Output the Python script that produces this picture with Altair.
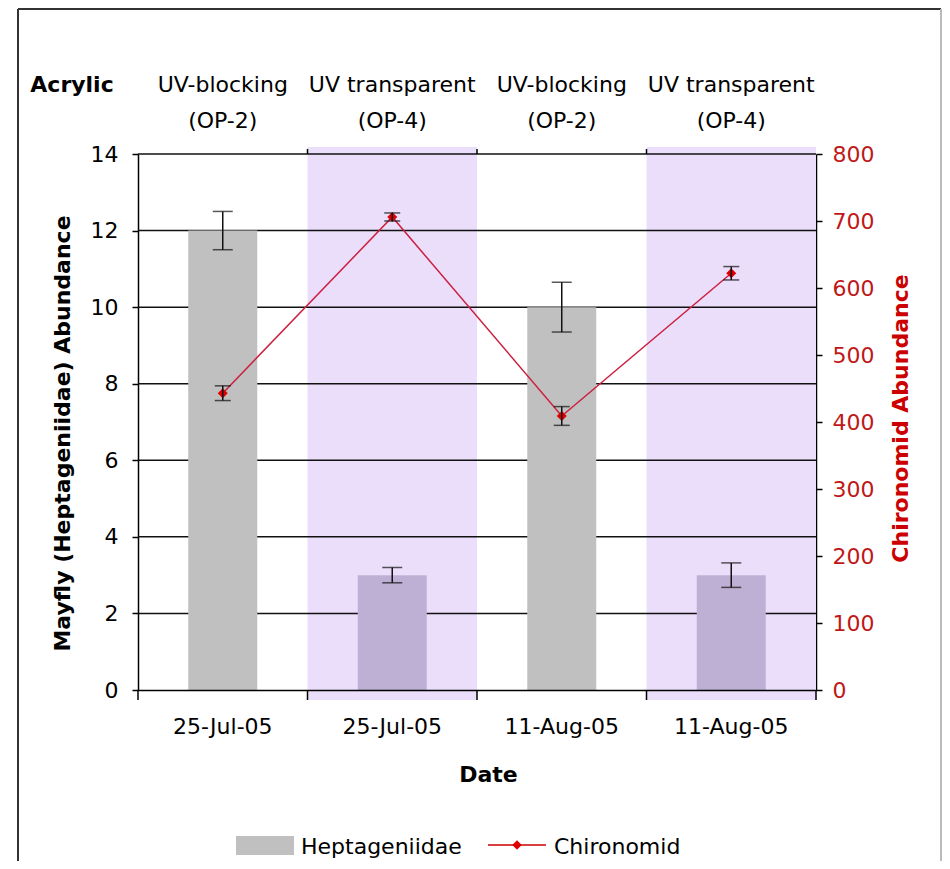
import json
import altair as alt
import pandas as pd

# ---- data ----
keys = ["0", "1", "2", "3"]
dates = ["25-Jul-05", "25-Jul-05", "11-Aug-05", "11-Aug-05"]
acrylic = ["UV-blocking\n(OP-2)", "UV transparent\n(OP-4)",
           "UV-blocking\n(OP-2)", "UV transparent\n(OP-4)"]
uv_type = ["blocking", "transparent", "blocking", "transparent"]
heptageniidae = [12, 3, 10, 3]
heptageniidae_err = [0.5, 0.2, 0.65, 0.32]
chironomid = [443, 706, 409, 622]
chironomid_err = [11, 6, 14, 10]
left_ticks = [0, 2, 4, 6, 8, 10, 12, 14]
grid_values = [2, 4, 6, 8, 10, 12, 14]
right_ticks = [0, 100, 200, 300, 400, 500, 600, 700, 800]
legend_labels = ["Heptageniidae", "Chironomid"]

df = pd.DataFrame({
    "key": keys, "date": dates, "acrylic": acrylic, "uv": uv_type,
    "hep": heptageniidae, "chi": chironomid,
})
df["hep_lo"] = df["hep"] - pd.Series(heptageniidae_err)
df["hep_hi"] = df["hep"] + pd.Series(heptageniidae_err)
df["chi_lo"] = df["chi"] - pd.Series(chironomid_err)
df["chi_hi"] = df["chi"] + pd.Series(chironomid_err)
grid_df = pd.DataFrame({"v": grid_values})
one = pd.DataFrame({"a": [legend_labels[0]], "b": [legend_labels[1]]})

FONT = "DejaVu Sans"
W, H = 678, 536

xscale = alt.Scale(domain=keys, paddingInner=0, paddingOuter=0)
x_axis = alt.Axis(
    orient="bottom", labelExpr=json.dumps(dates) + "[toNumber(datum.value)]",
    labelAngle=0, labelFontSize=22, labelFont=FONT, labelColor="#000",
    labelBaseline="alphabetic", labelPadding=43, ticks=False, tickSize=0,
    domainColor="#000", domainWidth=1.5, grid=False,
    titleFontSize=22, titleFont=FONT, titleFontWeight="bold", titleColor="#000",
    titleX=350, titleY=91, titleBaseline="alphabetic", titleAlign="center",
)
x_enc = alt.X("key:N", scale=xscale, axis=x_axis, title="Date")


def xb(pos):
    return alt.X("key:N", scale=xscale, axis=x_axis, title="Date", bandPosition=pos)


yL_scale = alt.Scale(domain=[0, 14], nice=False)
yL_axis = alt.Axis(
    orient="left", values=left_ticks, grid=False, tickSize=6, tickColor="#000",
    tickWidth=1.5, domainColor="#000", domainWidth=1.5, labelFontSize=22,
    labelFont=FONT, labelColor="#000", labelPadding=14,
    titleFontSize=22, titleFont=FONT, titleFontWeight="bold", titleColor="#000",
    titleAngle=270, titleX=-76, titleY=279, titleBaseline="middle", titleAlign="center",
)
YL_TITLE = "Mayfly (Heptageniidae) Abundance"

yR_scale = alt.Scale(domain=[0, 800], nice=False)
yR_axis = alt.Axis(
    orient="right", values=right_ticks, grid=False, tickSize=6, tickColor="#000",
    tickWidth=1.5, domainColor="#000", domainWidth=1.5, labelFontSize=22,
    labelFont=FONT, labelColor="#c01818", labelPadding=10,
    titleFontSize=22, titleFont=FONT, titleFontWeight="bold", titleColor="#cc0000",
    titleAngle=270, titleX=84, titleY=264, titleBaseline="middle", titleAlign="center",
)
YR_TITLE = "Chironomid Abundance"


def yl(field):
    return alt.Y(field, scale=yL_scale, axis=yL_axis, title=YL_TITLE)


def yr(field):
    return alt.Y(field, scale=yR_scale, axis=yR_axis, title=YR_TITLE)


base = alt.Chart(df)

# frame
frame_left = alt.Chart(one).mark_rule(color="#333", strokeWidth=2).encode(
    x=alt.value(-120), y=alt.value(-145), y2=alt.value(720))
frame_top = alt.Chart(one).mark_rule(color="#333", strokeWidth=2).encode(
    x=alt.value(-120), x2=alt.value(803), y=alt.value(-145))
frame_right = alt.Chart(one).mark_rule(color="#bbbbbb", strokeWidth=2).encode(
    x=alt.value(803), y=alt.value(-145), y2=alt.value(720))

bands = base.transform_filter("datum.uv == 'transparent'").mark_rect(
    color="#ebdefa").encode(x=x_enc, y=alt.value(-7), y2=alt.value(546))

grid = alt.Chart(grid_df).mark_rule(color="#111", strokeWidth=1.5).encode(y=yl("v:Q"))

bars = base.mark_bar(size=69).encode(
    x=x_enc, y=yl("hep:Q"),
    color=alt.condition("datum.uv == 'transparent'", alt.value("#beb0d4"), alt.value("#c0c0c0")),
)
bar_err = base.mark_rule(color="#111", strokeWidth=1.5).encode(
    x=x_enc, y=yl("hep_lo:Q"), y2="hep_hi:Q")
bar_cap_lo = base.mark_tick(orient="horizontal", size=20, thickness=1.5, color="#111").encode(
    x=x_enc, y=yl("hep_lo:Q"))
bar_cap_hi = base.mark_tick(orient="horizontal", size=20, thickness=1.5, color="#111").encode(
    x=x_enc, y=yl("hep_hi:Q"))

top_ticks = alt.Chart(df.iloc[1:]).mark_rule(color="#000", strokeWidth=1.5).encode(
    x=xb(0), y=alt.value(-5), y2=alt.value(0))
bottom_ticks = base.mark_rule(color="#000", strokeWidth=1.5).encode(
    x=xb(0), y=alt.value(536), y2=alt.value(546))
end_tick = alt.Chart(df.iloc[3:]).mark_rule(color="#000", strokeWidth=1.5).encode(
    x=xb(1), y=alt.value(536), y2=alt.value(546))

header = base.mark_text(font=FONT, fontSize=22, lineBreak="\n", lineHeight=36,
                        baseline="alphabetic", align="center", color="#000").encode(
    x=x_enc, y=alt.value(-62), text="acrylic:N")
acrylic_lbl = alt.Chart(one).mark_text(font=FONT, fontSize=22, fontWeight="bold",
                                       baseline="alphabetic", align="center", color="#000",
                                       text="Acrylic").encode(
    x=alt.value(-66), y=alt.value(-62))

# legend
leg_rect = alt.Chart(one).mark_rect(color="#c0c0c0").encode(
    x=alt.value(98), x2=alt.value(156), y=alt.value(682), y2=alt.value(701))
leg_t1 = alt.Chart(one).mark_text(font=FONT, fontSize=22, align="left",
                                  baseline="alphabetic", color="#000").encode(
    x=alt.value(163), y=alt.value(700), text="a:N")
leg_line = alt.Chart(one).mark_rule(color="#cc0000", strokeWidth=1.5).encode(
    x=alt.value(350), x2=alt.value(408), y=alt.value(691))
leg_pt = alt.Chart(one).mark_point(shape="diamond", filled=True, size=90,
                                   color="#dd0000", opacity=1).encode(
    x=alt.value(379), y=alt.value(691))
leg_t2 = alt.Chart(one).mark_text(font=FONT, fontSize=22, align="left",
                                  baseline="alphabetic", color="#000").encode(
    x=alt.value(416), y=alt.value(700), text="b:N")

left = alt.layer(
    frame_left, frame_top, frame_right, bands, grid, bars, bar_err, bar_cap_lo, bar_cap_hi,
    top_ticks, bottom_ticks, end_tick, header, acrylic_lbl,
    leg_rect, leg_t1, leg_line, leg_pt, leg_t2,
)

line = base.mark_line(color="#cc2040", strokeWidth=1.5).encode(x=x_enc, y=yr("chi:Q"))
pts = base.mark_point(shape="diamond", filled=True, size=100, color="#dd0000", opacity=1).encode(
    x=x_enc, y=yr("chi:Q"))
chi_err = base.mark_rule(color="#111", strokeWidth=1.5).encode(
    x=x_enc, y=yr("chi_lo:Q"), y2="chi_hi:Q")
chi_cap_lo = base.mark_tick(orient="horizontal", size=16, thickness=1.5, color="#111").encode(
    x=x_enc, y=yr("chi_lo:Q"))
chi_cap_hi = base.mark_tick(orient="horizontal", size=16, thickness=1.5, color="#111").encode(
    x=x_enc, y=yr("chi_hi:Q"))

right = alt.layer(line, pts, chi_err, chi_cap_lo, chi_cap_hi)

chart = alt.layer(left, right).resolve_scale(y="independent").properties(
    width=W, height=H,
    padding={"left": 130, "top": 146, "right": 126, "bottom": 171},
    autosize=alt.AutoSizeParams(type="none"),
    background="white",
).configure_view(stroke=None)

chart.save("out.html", embed_options={"renderer": "svg", "actions": False})
